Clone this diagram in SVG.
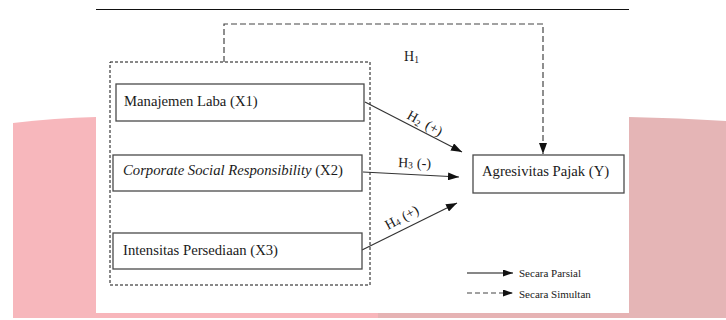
<svg xmlns="http://www.w3.org/2000/svg" width="726" height="320" viewBox="0 0 726 320">
<style>
.lbl{font-family:"Liberation Serif","Times New Roman",serif;font-size:14.7px;fill:#1a1a1a}
.hl{font-family:"Liberation Serif","Times New Roman",serif;font-size:14px;fill:#1a1a1a}
.lg{font-family:"Liberation Serif","Times New Roman",serif;font-size:11px;fill:#1a1a1a}
.box{fill:#fff;stroke:#4a4a4a;stroke-width:1.3}
.solid{fill:none;stroke:#333;stroke-width:1.2}
.dash{fill:none;stroke:#444;stroke-width:1.2;stroke-dasharray:6,3}
</style>
<defs>
<marker id="ah" markerUnits="userSpaceOnUse" markerWidth="11" markerHeight="8" refX="11" refY="4" orient="auto">
<path d="M0,0 L11,4 L0,8 z" fill="#111"/>
</marker>
<marker id="ahs" markerUnits="userSpaceOnUse" markerWidth="10" markerHeight="7" refX="10" refY="3.5" orient="auto">
<path d="M0,0 L10,3.5 L0,7 z" fill="#111"/>
</marker>
</defs>
<g id="background">
<rect x="0" y="0" width="726" height="320" fill="#fff"/>
<path d="M13,123 Q55,118 96,117 L96,318 L13,318 Z" fill="#f7b7bc"/>
<path d="M629,117 Q680,118 726,121 L726,318 L629,318 Z" fill="#e5b5b6"/>
<rect x="96" y="313" width="282" height="5" fill="#f8b6bb"/>
<rect x="378" y="313" width="251" height="5" fill="#e6b3b4"/>
<rect x="96" y="0" width="533" height="313" fill="#fff"/>
<line x1="96" y1="9.5" x2="629" y2="9.5" stroke="#111" stroke-width="1.2"/>
</g>
<g id="group-box">
<rect x="110" y="62" width="260" height="223" fill="none" stroke="#111" stroke-width="1" stroke-dasharray="3,2"/>
</g>
<g id="connectors">
<path class="dash" d="M224,62 V24 H543 V154" marker-end="url(#ah)"/>
<line class="solid" x1="365" y1="102" x2="462" y2="152" marker-end="url(#ah)"/>
<line class="solid" x1="363" y1="172" x2="459" y2="177" marker-end="url(#ah)"/>
<line class="solid" x1="362" y1="250" x2="457" y2="203" marker-end="url(#ah)"/>
<text class="hl" x="404" y="61">H<tspan font-size="9.5" dy="2">1</tspan></text>
<text class="hl" transform="translate(406,118) rotate(29)">H<tspan font-size="9.5" dy="2">2</tspan><tspan dy="-2" dx="6">(+)</tspan></text>
<text class="hl" transform="translate(398,167) rotate(2)">H<tspan font-size="9.5" dy="1">3</tspan><tspan dy="-1" dx="4">(-)</tspan></text>
<text class="hl" transform="translate(388,230) rotate(-28)">H<tspan font-size="9.5" dy="1">4</tspan><tspan dy="-1" dx="4">(+)</tspan></text>
</g>
<g id="node-x1">
<rect class="box" x="116" y="84" width="248" height="37"/>
<text class="lbl" x="124" y="106">Manajemen Laba (X1)</text>
</g>
<g id="node-x2">
<rect class="box" x="113" y="155" width="249" height="36"/>
<text class="lbl" x="123" y="175"><tspan font-style="italic">Corporate Social Responsibility</tspan> (X2)</text>
</g>
<g id="node-x3">
<rect class="box" x="113" y="233" width="249" height="36"/>
<text class="lbl" x="123" y="255">Intensitas Persediaan (X3)</text>
</g>
<g id="node-y">
<rect class="box" x="473" y="155" width="151" height="38"/>
<text class="lbl" x="482" y="176">Agresivitas Pajak (Y)</text>
</g>
<g id="legend">
<line x1="467" y1="273" x2="513" y2="273" stroke="#111" stroke-width="1.2" marker-end="url(#ahs)"/>
<line x1="467" y1="293" x2="513" y2="293" stroke="#444" stroke-width="1.2" stroke-dasharray="5,3" marker-end="url(#ahs)"/>
<text class="lg" x="519" y="277">Secara Parsial</text>
<text class="lg" x="519" y="298">Secara Simultan</text>
</g>
</svg>
